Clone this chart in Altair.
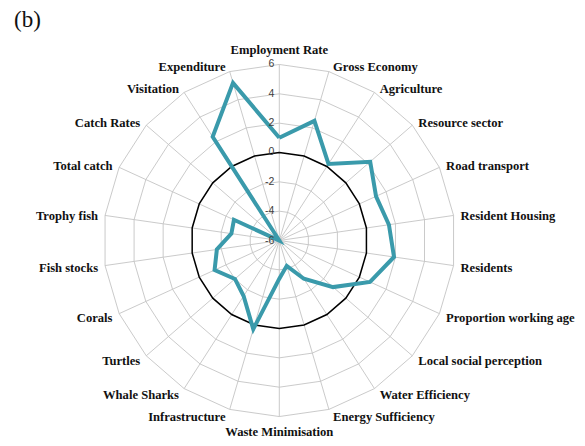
import math
import altair as alt
import pandas as pd

# ---- data ----
categories = [
    "Employment Rate", "Gross Economy", "Agriculture", "Resource sector",
    "Road transport", "Resident Housing", "Residents", "Proportion working age",
    "Local social perception", "Water Efficiency", "Energy Sufficiency",
    "Waste Minimisation", "Infrastructure", "Whale Sharks", "Turtles", "Corals",
    "Fish stocks", "Trophy fish", "Total catch", "Catch Rates", "Visitation",
    "Expenditure",
]
values = [1.0, 2.5, 0.2, 2.2, 1.25, 1.55, 1.9, 0.8, -1.15, -2.9, -4.2,
          -3.4, 0.3, -1.5, -2.0, -1.15, -1.7, -2.7, -2.6, -6.0, 2.4, 5.2]
tick_values = [-6, -4, -2, 0, 2, 4, 6]
tick_labels = ["-6", "-4", "-2", "0", "2", "4", "6"]
panel_label = "(b)"

# ---- geometry / layout ----
RMIN, RMAX = -6, 6
N = len(categories)
PX = 14.67                 # pixels per radial unit
W, H = 569, 430
CX, CY = 271.3, 232.5      # centre inside plot area (px)
xdom = [-CX / PX, (W - CX) / PX]
ydom = [-(H - CY) / PX, CY / PX]


def ang(i):
    return 2 * math.pi * i / N


def pol(v, i):
    r = v - RMIN
    return r * math.sin(ang(i)), r * math.cos(ang(i))


series = []
for k, i in enumerate(list(range(N)) + [0]):
    x, y = pol(values[i], i)
    series.append({"x": x, "y": y, "k": k, "cat": categories[i]})
series = pd.DataFrame(series)

rings = []
for lvl in tick_values[1:]:
    for k, i in enumerate(list(range(N)) + [0]):
        x, y = pol(lvl, i)
        rings.append({"x": x, "y": y, "k": k, "ring": lvl})
rings = pd.DataFrame(rings)
gray_rings = rings[rings.ring != 0]
zero_ring = rings[rings.ring == 0]

spokes = []
for i in range(N):
    x2, y2 = pol(RMAX, i)
    spokes.append({"x": 0.0, "y": 0.0, "x2": x2, "y2": y2})
spokes = pd.DataFrame(spokes)

ticks = pd.DataFrame({"y": [t - RMIN for t in tick_values], "x": [0.0] * len(tick_values),
                      "lab": tick_labels})

labs = []
for i, c in enumerate(categories):
    s, co = math.sin(ang(i)), math.cos(ang(i))
    x, y = pol(RMAX, i)
    if abs(s) < 1e-6:
        side = "center"
        dy = 14.5 if co > 0 else -15.5
        dx = 0
    else:
        side = "left" if s > 0 else "right"
        dx = (3 + 4 * abs(s)) * (1 if s > 0 else -1)
        dy = 6 * co - 1.5
    labs.append({"x": x + dx / PX, "y": y + dy / PX, "lab": c, "side": side})
labs = pd.DataFrame(labs)

X = lambda f="x": alt.X(f"{f}:Q", scale=alt.Scale(domain=xdom, nice=False, zero=False), axis=None)
Y = lambda f="y": alt.Y(f"{f}:Q", scale=alt.Scale(domain=ydom, nice=False, zero=False), axis=None)

grid = alt.Chart(gray_rings).mark_line(color="#c4c4c4", strokeWidth=0.9).encode(
    x=X(), y=Y(), detail="ring:N", order="k:Q")
zero = alt.Chart(zero_ring).mark_line(color="#000000", strokeWidth=1.5).encode(
    x=X(), y=Y(), order="k:Q")
spk = alt.Chart(spokes).mark_rule(color="#c4c4c4", strokeWidth=0.9).encode(
    x=X(), y=Y(), x2="x2:Q", y2="y2:Q")
line = alt.Chart(series).mark_line(color="#3a9aab", strokeWidth=4, strokeJoin="miter").encode(
    x=X(), y=Y(), order="k:Q")
tick_txt = alt.Chart(ticks).mark_text(align="right", baseline="middle", dx=-5,
                                      font="Liberation Sans", fontSize=10.5, color="#404040").encode(
    x=X(), y=Y(), text="lab:N")

label_layers = []
for side in ["left", "right", "center"]:
    label_layers.append(
        alt.Chart(labs[labs.side == side]).mark_text(
            align=side, baseline="middle", font="Liberation Serif", fontWeight="bold",
            fontSize=12.6, color="#111111").encode(x=X(), y=Y(), text="lab:N"))

title = alt.Chart(pd.DataFrame({"t": [panel_label]})).mark_text(
    align="left", baseline="middle", font="Liberation Serif", fontSize=23, color="#111111").encode(
    x=alt.value(6), y=alt.value(12), text="t:N")

chart = alt.layer(grid, spk, zero, line, tick_txt, *label_layers, title).properties(
    width=W, height=H, padding=0, autosize=alt.AutoSizeParams(type="none")
).configure_view(stroke=None)

chart.save("out.html", embed_options={"renderer": "svg", "actions": False})
